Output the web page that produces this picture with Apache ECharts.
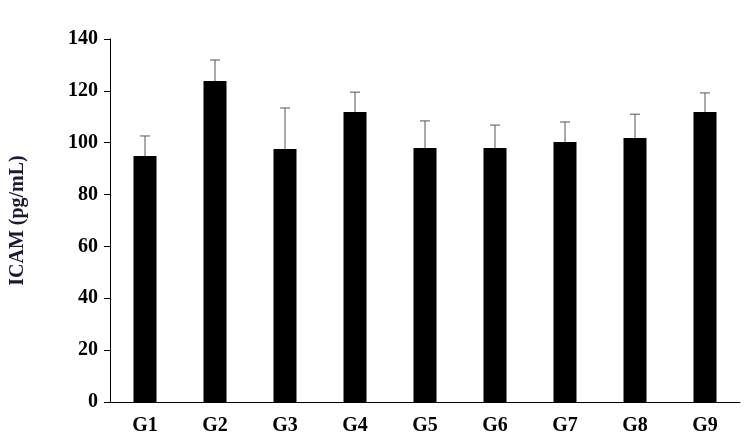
<!DOCTYPE html>
<html>
<head>
<meta charset="utf-8">
<script src="https://cdn.jsdelivr.net/npm/echarts@6/dist/echarts.min.js"></script>
<style>html,body{margin:0;background:#fff}#chart{width:754px;height:446px}</style>
</head>
<body>
<div id="chart"></div>
<script>
var groups = ["G1", "G2", "G3", "G4", "G5", "G6", "G7", "G8", "G9"];
var means = [94.9, 123.8, 97.6, 111.8, 98, 98, 100.3, 101.8, 111.8];
var upper = [102.6, 131.9, 113.4, 119.5, 108.4, 106.8, 108, 111, 119.2];

var font = "Liberation Serif";
var chart = echarts.init(document.getElementById("chart"));
chart.setOption({
  animation: false,
  grid: { left: 108, right: 14, top: 39, bottom: 44 },
  xAxis: {
    type: "category",
    data: groups,
    axisLine: { lineStyle: { color: "#000" } },
    axisTick: { show: false },
    axisLabel: { color: "#000", fontFamily: font, fontWeight: "bold", fontSize: 20, margin: 14 }
  },
  yAxis: {
    type: "value",
    min: 0, max: 140, interval: 20,
    name: "ICAM (pg/mL)",
    nameLocation: "middle",
    nameGap: 82,
    nameTextStyle: { color: "#1a1a33", fontFamily: font, fontWeight: "bold", fontSize: 20 },
    axisLine: { show: true, lineStyle: { color: "#000" } },
    axisTick: { show: true, length: 6, lineStyle: { color: "#000" } },
    splitLine: { show: false },
    axisLabel: { color: "#000", fontFamily: font, fontWeight: "bold", fontSize: 20, margin: 12 }
  },
  series: [
    {
      type: "bar",
      data: means,
      barWidth: 23,
      itemStyle: { color: "#000" }
    },
    {
      type: "custom",
      data: groups.map(function (g, i) { return [i, means[i], upper[i]]; }),
      renderItem: function (params, api) {
        var lo = api.coord([api.value(0), api.value(1)]);
        var hi = api.coord([api.value(0), api.value(2)]);
        var st = { stroke: "#555", lineWidth: 1 };
        return {
          type: "group",
          children: [
            { type: "line", shape: { x1: lo[0], y1: lo[1], x2: hi[0], y2: hi[1] }, style: st },
            { type: "line", shape: { x1: hi[0] - 5, y1: hi[1], x2: hi[0] + 5, y2: hi[1] }, style: st }
          ]
        };
      },
      z: 3
    }
  ]
});
</script>
</body>
</html>
